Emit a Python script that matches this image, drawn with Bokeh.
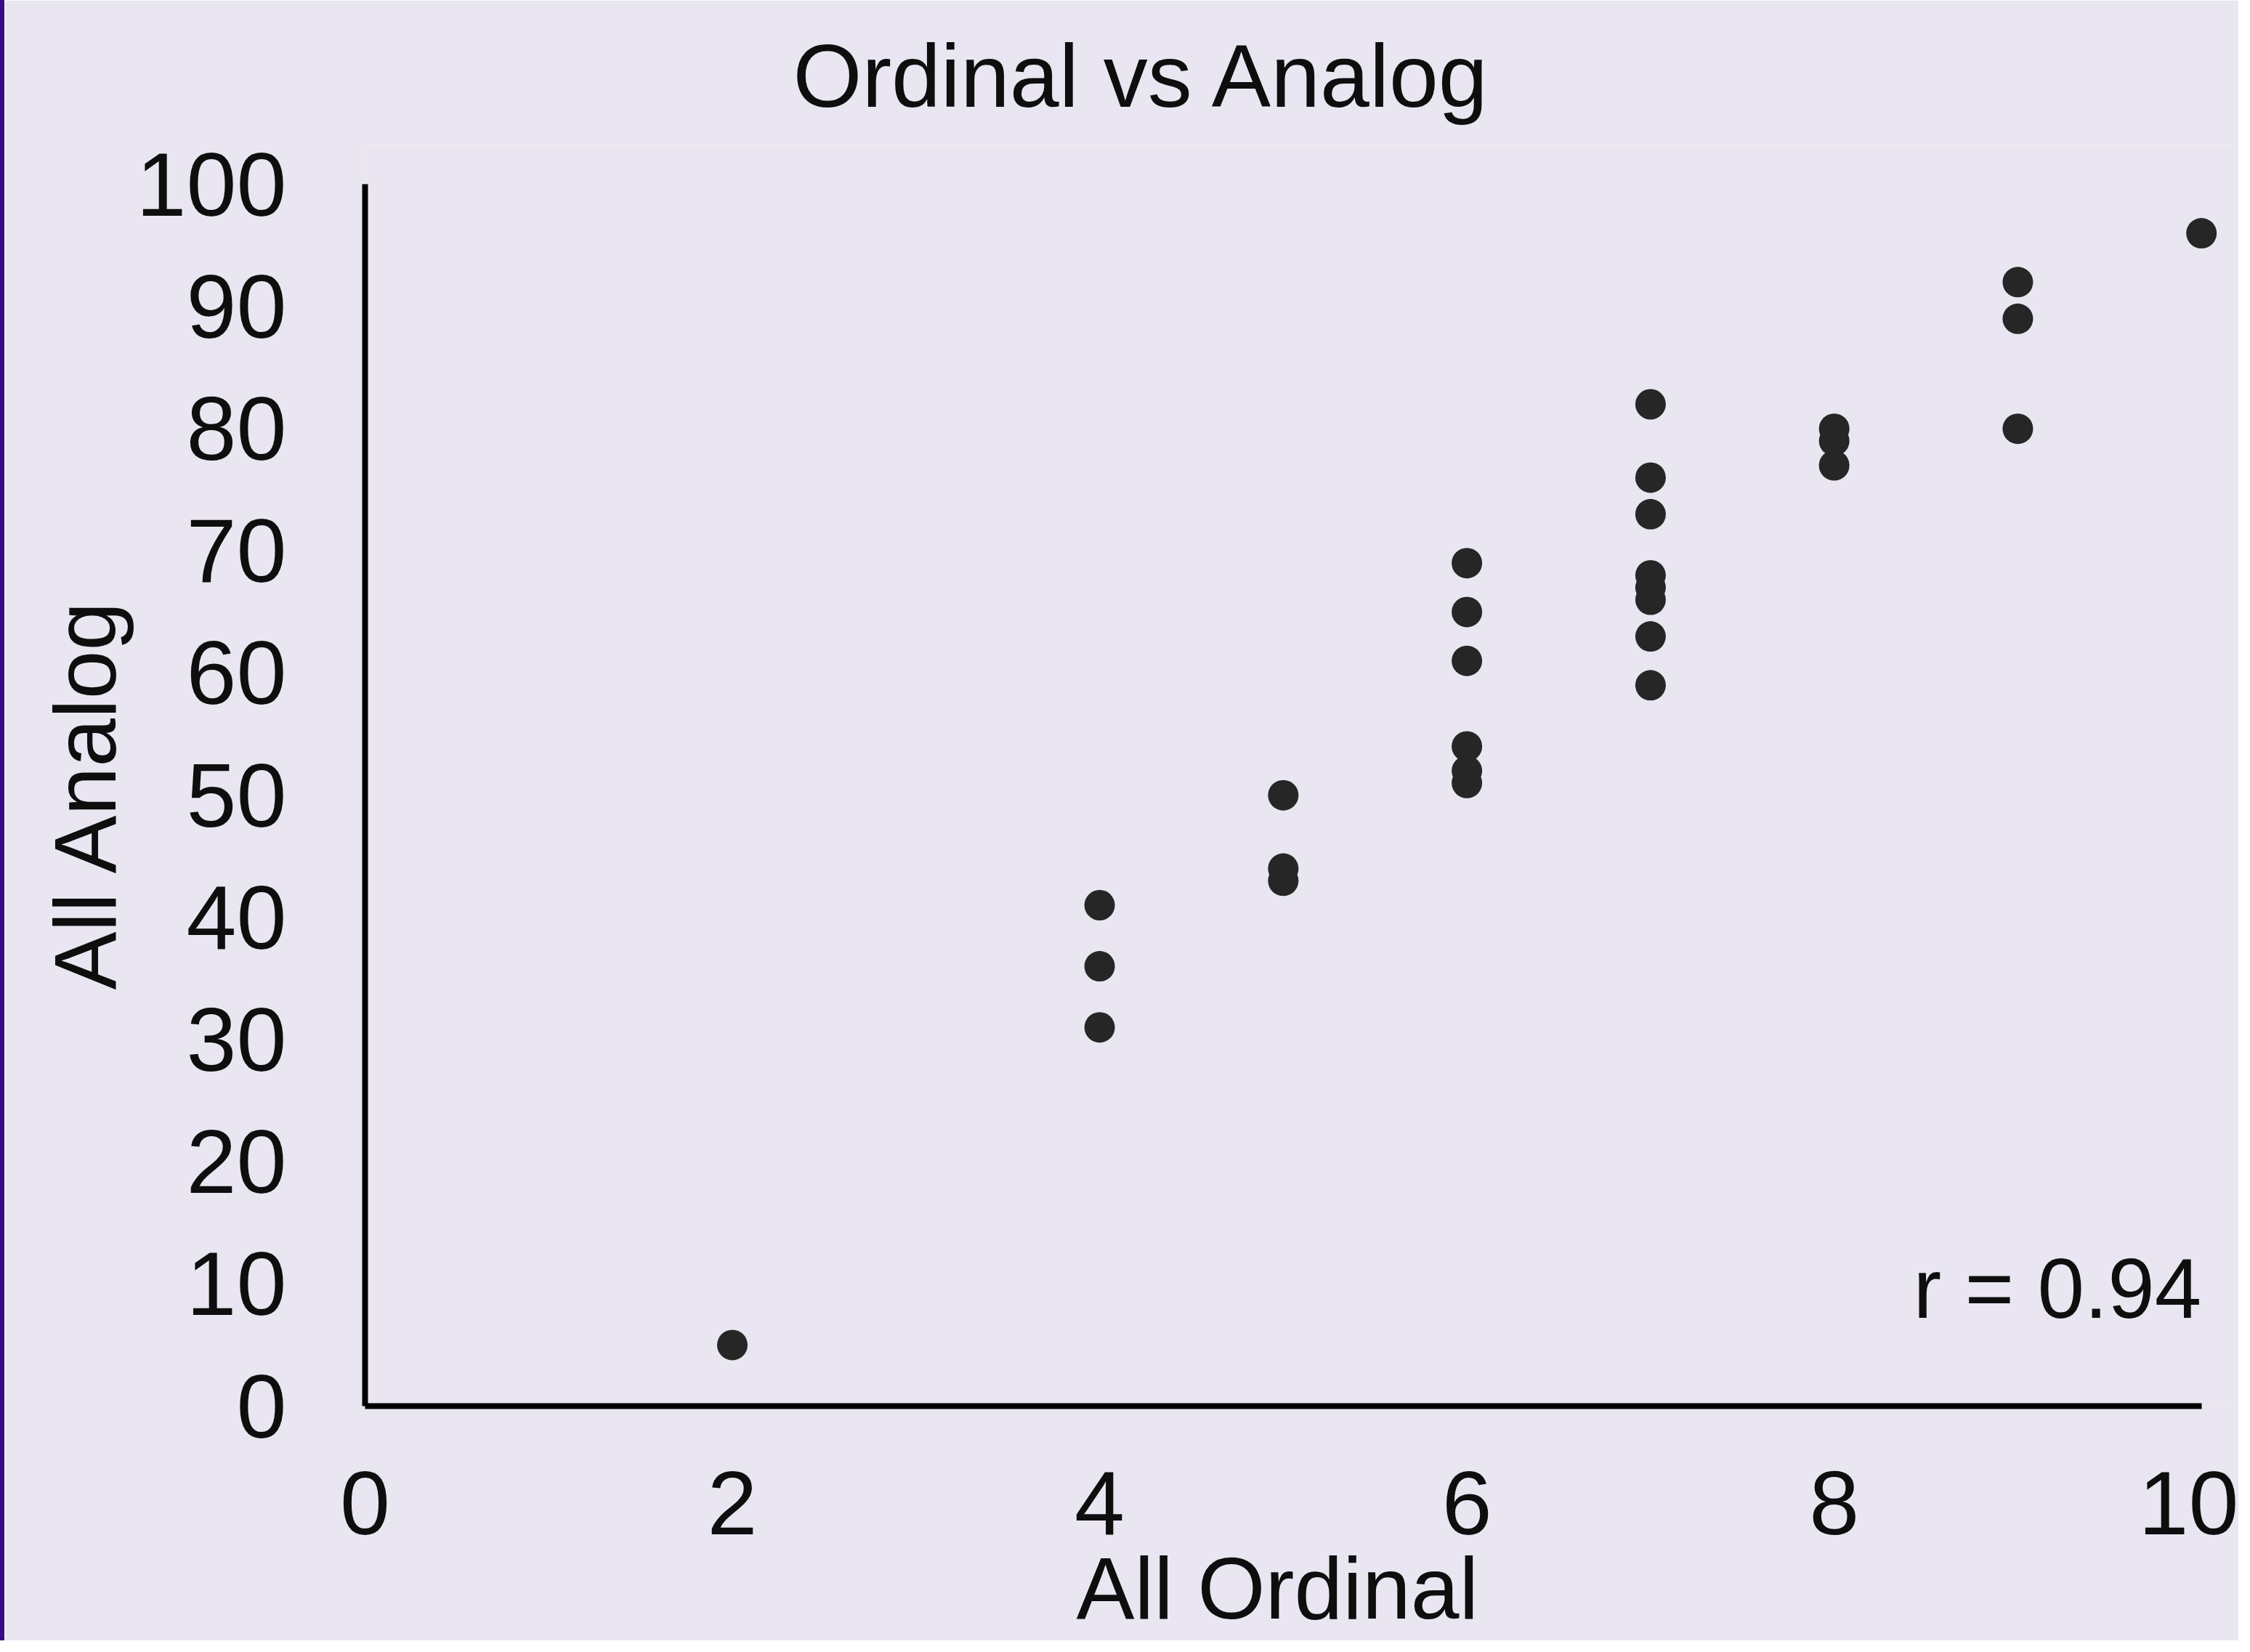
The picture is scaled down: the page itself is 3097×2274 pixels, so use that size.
from bokeh.plotting import figure
from bokeh.models import Range1d, FixedTicker, Label, ColumnDataSource, Div, Row, Title
from bokeh.embed import file_html
from bokeh.resources import INLINE

# ---- data ----
ordinal = [2, 4, 4, 4, 5, 5, 5, 6, 6, 6, 6, 6, 6,
           7, 7, 7, 7, 7, 7, 7, 7, 8, 8, 8, 9, 9, 9, 10]
analog = [5, 41, 36, 31, 50, 44, 43, 69, 65, 61, 54, 52, 51,
          82, 76, 73, 68, 67, 66, 63, 59, 80, 79, 77, 92, 89, 80, 96]
x_ticks = [0, 2, 4, 6, 8, 10]
y_ticks = [0, 10, 20, 30, 40, 50, 60, 70, 80, 90, 100]
title_text = "Ordinal vs Analog"
x_label = "All Ordinal"
y_label = "All Analog"
r_text = "r = 0.94"

# ---- styling ----
BG = "#e9e6f1"
INK = "#0e0e0e"
DOT = "#262626"
STRIPE = "#3a0c82"
FONT = "Liberation Sans"

STRIPE_W = 6
W, H = 3081 - STRIPE_W, 2258
LEFT, BOTTOM, TOP = 496, 322, 200
X_END = 10.203
Y_END = 103.17

p = figure(width=W, height=H, output_backend="svg", toolbar_location=None,
           x_range=Range1d(0, X_END), y_range=Range1d(0, Y_END),
           min_border_left=LEFT, min_border_right=0,
           min_border_top=TOP, min_border_bottom=BOTTOM)

p.background_fill_color = BG
p.border_fill_color = BG
p.outline_line_color = None
p.grid.visible = False

# title
p.title.text = title_text
p.title.text_font = FONT
p.title.text_font_size = "122px"
p.title.text_font_style = "normal"
p.title.text_color = INK
p.title.align = "left"
p.title.offset = 589
p.title.standoff = 56

# axes
for ax in (p.xaxis[0], p.yaxis[0]):
    ax.axis_line_color = "black"
    ax.axis_line_width = 8
    ax.major_tick_out = 0
    ax.major_tick_in = 0
    ax.minor_tick_out = 0
    ax.minor_tick_in = 0
    ax.major_label_text_font = FONT
    ax.major_label_text_font_size = "124px"
    ax.major_label_text_color = INK

p.xaxis.ticker = FixedTicker(ticks=x_ticks)
p.yaxis.ticker = FixedTicker(ticks=y_ticks)
p.xaxis.bounds = (x_ticks[0], x_ticks[-1])
p.yaxis.bounds = (y_ticks[0], y_ticks[-1])
p.xaxis.major_label_standoff = 90
p.yaxis.major_label_standoff = 108

# axis titles as side titles (exact placement, fixed borders)
p.add_layout(Title(text=x_label, text_font=FONT, text_font_size="120px",
                   text_font_style="normal", text_color=INK,
                   align="left", offset=979, vertical_align="top",
                   standoff=8), "below")
p.add_layout(Title(text=y_label, text_font=FONT, text_font_size="120px",
                   text_font_style="normal", text_color=INK,
                   align="left", offset=573, vertical_align="middle",
                   standoff=0), "left")

# points
src = ColumnDataSource(dict(x=ordinal, y=analog))
p.scatter("x", "y", source=src, size=42, fill_color=DOT, line_color=None)

# correlation annotation
p.add_layout(Label(x=x_ticks[-1], y=9.6, text=r_text,
                   text_align="right", text_baseline="alphabetic",
                   text_font=FONT, text_font_size="116px", text_color=INK))

# thin purple stripe on the left edge
stripe = Div(text="", width=STRIPE_W, height=H, margin=0,
             styles={"background-color": STRIPE})

layout = Row(stripe, p, spacing=0)

open("out.html", "w").write(file_html(layout, INLINE))
